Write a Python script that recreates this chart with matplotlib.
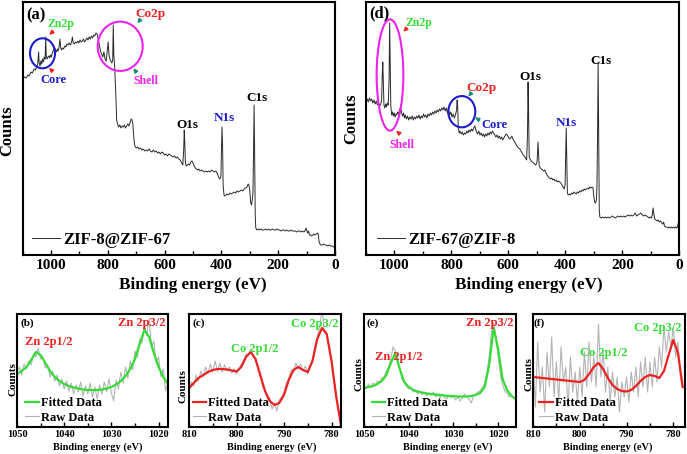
import numpy as np
import matplotlib
matplotlib.use("Agg")
import matplotlib.pyplot as plt
from matplotlib.patches import Ellipse
from matplotlib.ticker import MultipleLocator

plt.rcParams['font.family'] = 'Liberation Serif'
plt.rcParams['font.weight'] = 'bold'

# ---- survey (a) ZIF-8@ZIF-67 : binding energy (eV) / counts (a.u.)
a_ev = [1100, 1094, 1088, 1082, 1077, 1071, 1066, 1060, 1055, 1050,
        1047, 1044, 1042, 1039, 1036, 1033, 1030, 1027, 1024, 1021,
        1019, 1017, 1014, 1011, 1008, 1005, 1002, 999, 996, 993,
        990, 987, 984, 981, 978, 975, 972, 969, 966, 963,
        960, 956, 952, 948, 944, 940, 936, 932, 928, 925,
        922, 918, 914, 910, 906, 902, 898, 894, 890, 886,
        882, 878, 874, 870, 866, 862, 858, 854, 850, 846,
        842, 838, 834, 830, 826, 822, 818, 814, 810, 806,
        802, 799, 796, 793, 790, 786, 783, 781, 779, 776,
        772, 769, 766, 762, 758, 754, 750, 746, 742, 738,
        734, 730, 726, 722, 718, 715, 712, 708, 705, 700,
        695, 690, 685, 680, 675, 670, 665, 660, 655, 650,
        645, 640, 635, 630, 625, 620, 615, 610, 605, 600,
        595, 590, 585, 580, 575, 570, 565, 560, 555, 550,
        545, 540, 536, 533, 531, 529, 527, 524, 520, 516,
        512, 508, 504, 500, 496, 492, 488, 484, 480, 475,
        470, 465, 460, 455, 450, 445, 440, 435, 430, 425,
        420, 415, 410, 406, 402, 400, 398, 396, 394, 391,
        388, 384, 380, 375, 370, 365, 360, 355, 350, 345,
        340, 335, 330, 325, 320, 315, 310, 306, 303, 300,
        297, 294, 291, 289, 287, 285, 283, 281, 279, 275,
        270, 265, 260, 255, 250, 245, 240, 235, 230, 225,
        220, 215, 210, 205, 200, 195, 190, 185, 180, 175,
        170, 165, 160, 155, 150, 145, 140, 135, 130, 125,
        120, 115, 110, 106, 102, 99, 96, 93, 90, 86,
        82, 78, 74, 70, 66, 62, 59, 56, 53, 50,
        45, 40, 35, 30, 25, 20, 15, 10, 5, 0]
a_cts = [176, 178, 177, 180, 179, 183, 182, 186, 185, 189,
         191, 203, 192, 189, 194, 191, 196, 193, 198, 196,
         218, 199, 196, 198, 199, 197, 200, 198, 202, 204,
         206, 207, 205, 203, 206, 204, 208, 216, 207, 205,
         207, 206, 209, 208, 211, 210, 212, 210, 213, 218,
         212, 211, 213, 212, 214, 212, 215, 213, 214, 216,
         213, 215, 217, 215, 218, 216, 219, 217, 220, 219,
         222, 221, 216, 210, 204, 201, 198, 203, 196, 194,
         205, 213, 200, 196, 194, 192, 195, 230, 200, 188,
         160, 135, 131, 128, 130, 127, 129, 128, 130, 127,
         129, 131, 129, 132, 136, 135, 131, 115, 109, 107,
         108, 106, 107, 105, 106, 104, 105, 104, 106, 104,
         103, 105, 103, 104, 102, 103, 101, 103, 102, 100,
         101, 99, 101, 100, 99, 98, 99, 97, 98, 96,
         95, 92, 90, 105, 125, 112, 92, 89, 90, 91,
         90, 93, 94, 92, 89, 87, 86, 85, 86, 84,
         85, 84, 83, 84, 83, 84, 83, 85, 84, 83,
         84, 82, 78, 76, 78, 105, 128, 110, 70, 60,
         59, 60, 61, 60, 62, 61, 62, 63, 62, 64,
         63, 64, 65, 64, 66, 67, 68, 71, 70, 64,
         52, 50, 56, 62, 100, 150, 100, 40, 27, 25,
         26, 25, 26, 25, 25, 26, 25, 26, 25, 25,
         26, 25, 25, 26, 25, 25, 24, 25, 25, 24,
         25, 24, 24, 25, 24, 24, 24, 23, 24, 24,
         23, 24, 23, 24, 27, 24, 22, 24, 20, 20,
         19, 20, 21, 20, 21, 22, 21, 13, 11, 10,
         10, 11, 10, 10, 9, 10, 9, 9, 8, 8]

# ---- survey (d) ZIF-67@ZIF-8
d_ev = [1100, 1096, 1092, 1088, 1084, 1080, 1076, 1072, 1068, 1064,
        1060, 1056, 1052, 1048, 1045, 1043, 1041, 1039, 1037, 1034,
        1031, 1028, 1025, 1022, 1019, 1017, 1015, 1013, 1010, 1007,
        1004, 1001, 998, 995, 992, 989, 986, 983, 980, 977,
        974, 971, 968, 965, 962, 958, 954, 950, 946, 942,
        938, 934, 930, 926, 922, 918, 914, 910, 906, 902,
        898, 894, 890, 886, 882, 878, 874, 870, 866, 862,
        858, 854, 850, 846, 842, 838, 834, 830, 826, 822,
        818, 814, 810, 806, 802, 798, 794, 790, 786, 782,
        780, 778, 776, 773, 770, 766, 762, 758, 754, 750,
        746, 742, 738, 734, 730, 726, 722, 718, 715, 712,
        708, 704, 700, 696, 692, 688, 684, 680, 676, 672,
        668, 664, 660, 656, 652, 648, 644, 640, 636, 632,
        628, 624, 620, 616, 612, 608, 604, 600, 596, 592,
        588, 584, 580, 576, 572, 568, 564, 560, 556, 552,
        548, 544, 540, 536, 533, 531, 529, 527, 524, 520,
        516, 512, 508, 504, 500, 498, 496, 494, 492, 488,
        484, 480, 476, 472, 468, 464, 460, 456, 452, 448,
        444, 440, 436, 432, 428, 424, 420, 416, 412, 408,
        404, 401, 399, 397, 395, 393, 390, 386, 382, 378,
        374, 370, 366, 362, 358, 354, 350, 346, 342, 338,
        334, 330, 326, 322, 318, 314, 310, 306, 303, 300,
        297, 294, 291, 289, 287, 285, 283, 281, 279, 275,
        270, 265, 260, 255, 250, 245, 240, 235, 230, 225,
        220, 215, 210, 205, 200, 195, 190, 185, 180, 175,
        170, 165, 160, 155, 150, 145, 140, 135, 130, 125,
        120, 115, 110, 106, 102, 98, 95, 92, 89, 86,
        82, 78, 74, 70, 66, 62, 58, 55, 52, 48,
        44, 40, 36, 32, 28, 24, 20, 16, 12, 8,
        5, 3, 1]
d_cts = [155, 156, 153, 157, 154, 156, 152, 155, 151, 154,
         150, 152, 149, 151, 155, 180, 193, 170, 150, 147,
         151, 148, 152, 150, 175, 232, 190, 150, 140, 143,
         139, 142, 138, 141, 140, 143, 141, 144, 147, 146,
         141, 139, 142, 137, 140, 136, 139, 135, 138, 136,
         139, 135, 138, 136, 139, 137, 140, 136, 139, 137,
         141, 138, 140, 137, 141, 139, 142, 140, 143, 141,
         144, 142, 145, 143, 146, 144, 147, 145, 148, 144,
         147, 142, 145, 140, 143, 138, 141, 137, 140, 145,
         155, 148, 128, 122, 124, 121, 123, 120, 122, 121,
         124, 122, 125, 123, 126, 124, 127, 129, 126, 123,
         121, 124, 120, 122, 119, 121, 118, 121, 119, 122,
         120, 123, 121, 124, 122, 120, 118, 120, 117, 119,
         116, 118, 115, 117, 119, 121, 120, 118, 116, 117,
         119, 116, 114, 112, 110, 108, 107, 106, 104, 102,
         100, 99, 97, 95, 120, 173, 140, 98, 96, 94,
         93, 92, 91, 90, 92, 100, 113, 100, 89, 87,
         86, 85, 84, 85, 82, 80, 78, 77, 76, 77,
         75, 76, 74, 75, 73, 74, 73, 72, 70, 68,
         66, 70, 100, 127, 95, 62, 60, 61, 60, 62,
         61, 63, 62, 61, 63, 62, 64, 63, 65, 64,
         66, 65, 66, 67, 66, 68, 67, 68, 67, 58,
         53, 52, 55, 70, 120, 193, 120, 45, 38, 37,
         38, 37, 38, 37, 38, 37, 38, 39, 38, 37,
         38, 39, 38, 39, 38, 39, 38, 39, 40, 39,
         40, 39, 40, 42, 39, 40, 41, 42, 40, 39,
         40, 39, 38, 37, 38, 37, 40, 47, 40, 36,
         35, 34, 35, 33, 34, 32, 31, 33, 29, 28,
         28, 27, 28, 27, 28, 27, 28, 27, 28, 27,
         30, 33, 28]

# ---- high resolution spectra (energy grid = instrument step)
zn_fit_ev = np.arange(1050, 1017, -1)
zn_raw_ev = np.arange(1050, 1017.9, -0.5)
co_fit_ev = np.arange(810, 777, -1)
co_raw_ev = np.arange(810, 777.9, -0.5)
zn2_fit_ev = np.arange(1050, 1015, -1)
zn2_raw_ev = np.arange(1050, 1015.9, -0.5)

b_fit = [53, 56, 60, 67, 75, 72, 64, 56, 50, 46, 43, 41, 39.5, 38.5, 37.5, 37, 37,
         37, 37.5, 38.5, 40, 42.5, 46, 51, 58, 68, 83, 97, 90, 74, 60, 50, 43]
b_raw = [55, 60, 52, 63, 58, 66, 62, 73, 70, 79, 68, 70, 59, 62, 50, 56, 46, 52, 41, 48,
         38, 46, 36, 44, 33, 42, 35, 45, 31, 41, 33, 44, 30, 40, 28, 42, 33, 45, 35, 48,
         34, 26, 47, 38, 55, 44, 60, 49, 66, 57, 76, 70, 88, 84, 102, 92, 108, 80, 86, 64,
         70, 50, 58, 36, 45]
c_fit = [39, 44, 49, 52, 55, 57, 58, 58, 57.5, 56.5, 55.5, 60, 70, 75, 68, 52, 36,
         26, 22, 24, 32, 47, 57, 60, 57, 55, 66, 88, 99, 93, 66, 30, 2]
c_raw = [36, 45, 41, 52, 46, 56, 50, 60, 53, 63, 55, 66, 56, 64, 55, 62, 56, 60, 54, 58,
         53, 58, 63, 66, 73, 72, 78, 70, 68, 58, 54, 40, 38, 28, 29, 18, 24, 16, 27, 30,
         35, 44, 48, 57, 55, 64, 58, 63, 56, 61, 53, 62, 68, 80, 90, 100, 118, 96, 92, 80,
         68, 50, 32, 15, 2]
e_fit = [39, 40, 41, 43, 46, 52, 64, 74, 58, 45, 40, 37, 35.5, 34.5, 33.5, 33, 32.5, 32,
         31.5, 31, 31, 30.5, 30.5, 30.5, 31, 32, 34, 40, 62, 99, 78, 48, 37, 31, 28]
e_raw = [42, 38, 43, 39, 44, 42, 46, 45, 49, 50, 56, 60, 68, 80, 76, 66, 58, 48, 44, 41,
         38, 40, 35, 37, 33, 36, 32, 35, 31, 34, 32, 35, 30, 33, 29, 33, 30, 28, 32, 29,
         31, 27, 30, 26, 29, 33, 30, 28, 24, 31, 33, 35, 36, 40, 44, 55, 70, 95, 104, 90,
         70, 52, 42, 36, 34, 30, 32, 28, 30]
f_fit = [50, 49.5, 49, 48.5, 48, 47.5, 47, 46.5, 46, 45.5, 45, 47, 53, 60, 64, 58, 49,
         42, 38, 36, 35.5, 37, 41, 46, 50, 52, 51, 49, 56, 72, 87, 74, 40]
f_raw = [70, 20, 85, 35, 60, 15, 75, 40, 90, 30, 65, 25, 80, 45, 60, 20, 70, 35, 55, 25,
         60, 30, 75, 40, 85, 45, 70, 40, 103, 50, 75, 35, 60, 25, 55, 30, 50, 15, 45, 30,
         50, 25, 55, 35, 60, 30, 65, 40, 70, 35, 65, 40, 70, 45, 80, 60, 100, 75, 95, 80,
         100, 70, 85, 50, 40]

GREEN = '#35dc35'
RED = '#ec2222'
BLUE = '#1c1ccc'
MAGENTA = '#ee22ee'
TEAL = '#128a78'
GRAY = '#b4b4b4'

W, H = 687, 454
fig = plt.figure(figsize=(W / 100, H / 100), dpi=100)


def fp(x, y):
    return (x / W, 1 - y / H)


def box(l, t, r, b):
    return [l / W, 1 - b / H, (r - l) / W, (b - t) / H]


def style(ax, xlim, ylim, major, minor, fs, pad):
    ax.set_xlim(*xlim)
    ax.set_ylim(*ylim)
    ax.xaxis.set_major_locator(MultipleLocator(major))
    ax.xaxis.set_minor_locator(MultipleLocator(minor))
    ax.set_yticks([])
    ax.tick_params(axis='x', which='major', direction='in', length=3.5, width=1,
                   labelsize=fs, pad=pad)
    ax.tick_params(axis='x', which='minor', direction='in', length=3, width=1)
    for s in ax.spines.values():
        s.set_linewidth(1.5)


def txt(x, y, s, color='black', size=9, rot=0):
    fig.text(x / W, 1 - y / H, s, color=color, fontsize=size, fontweight='bold',
             ha='center', va='center', rotation=rot)


def arrow(ax, x0, y0, x1, y1, color):
    ax.annotate('', xy=fp(x1, y1), xytext=fp(x0, y0), xycoords='figure fraction',
                textcoords='figure fraction', annotation_clip=False,
                arrowprops=dict(arrowstyle='-|>', color=color, lw=1.0,
                                mutation_scale=6, shrinkA=0, shrinkB=0))


def ring(cx, cy, w, h, color):
    fig.add_artist(Ellipse(fp(cx, cy), w / W, h / H, transform=fig.transFigure,
                           fill=False, ec=color, lw=1.5))


# ---------------- top surveys
ax_a = fig.add_axes(box(22.7, 2, 335, 255))
ax_d = fig.add_axes(box(366, 2, 679.3, 255))

for ax, ev, cts, name, lx in [(ax_a, a_ev, a_cts, 'ZIF-8@ZIF-67', 0.030),
                              (ax_d, d_ev, d_cts, 'ZIF-67@ZIF-8', 0.035)]:
    ax.plot(ev, cts, color='#2a2a2a', lw=0.7, label=name)
    style(ax, (1100, 0), (0, 253), 200, 100, 11, 3)
    ax.legend(loc='center left', bbox_to_anchor=(lx, 15 / 253), frameon=False,
              fontsize=12, handlelength=1.7, handletextpad=0.2, borderpad=0,
              borderaxespad=0)

txt(193, 285, 'Binding energy (eV)', size=12.3)
txt(529, 285, 'Binding energy (eV)', size=12.3)
txt(7.5, 131, 'Counts', size=12, rot=90)
txt(351, 119, 'Counts', size=12, rot=90)

# panel (a) annotations
txt(35.5, 15, '(a)', size=12)
txt(61, 24, 'Zn2p', GREEN, 8.5)
arrow(ax_a, 53.3, 31, 49.3, 35, RED)
ring(42.5, 53.3, 25, 30, BLUE)
txt(53.3, 80, 'Core', BLUE, 9)
arrow(ax_a, 52.3, 71, 49, 67.7, RED)
ring(120.2, 46.3, 45, 49.3, MAGENTA)
txt(150.3, 14.2, 'Co2p', RED, 9.5)
arrow(ax_a, 140, 20, 137.3, 23.3, TEAL)
txt(145.8, 80.8, 'Shell', MAGENTA, 8.5)
arrow(ax_a, 136, 71.7, 133.3, 68.3, TEAL)
txt(187, 125, 'O1s', size=9.5)
txt(224.7, 118.3, 'N1s', BLUE, 9.5)
txt(256.7, 98.3, 'C1s', size=9.5)

# panel (d) annotations
txt(379.7, 13.3, '(d)', size=12)
ring(390, 75, 26.7, 111.3, MAGENTA)
txt(419, 23.3, 'Zn2p', GREEN, 8.5)
arrow(ax_d, 406.7, 28.3, 403.3, 31.7, RED)
txt(402, 144.7, 'Shell', MAGENTA, 8.5)
arrow(ax_d, 400, 134, 396, 130.7, RED)
ring(461.8, 111.7, 27, 31.3, BLUE)
txt(481.3, 87.5, 'Co2p', RED, 9.5)
arrow(ax_d, 471, 93.3, 468.3, 96.7, TEAL)
txt(494, 124.7, 'Core', BLUE, 9)
arrow(ax_d, 479.3, 120, 475, 117.3, TEAL)
txt(530.8, 76.7, 'O1s', size=9.5)
txt(566.3, 123.3, 'N1s', BLUE, 9.5)
txt(600.8, 61.3, 'C1s', size=9.5)

# ---------------- high resolution panels
panels = [
    (box(17, 314, 168, 427), zn_raw_ev, b_raw, zn_fit_ev, b_fit, GREEN, (1050, 1018), 0.053),
    (box(189, 314, 341, 427), co_raw_ev, c_raw, co_fit_ev, c_fit, RED, (810, 778), 0.024),
    (box(364, 314, 516, 427), zn2_raw_ev, e_raw, zn2_fit_ev, e_fit, GREEN, (1050, 1016), 0.05),
    (box(533, 314, 685, 427), co_raw_ev, f_raw, co_fit_ev, f_fit, RED, (810, 777.5), 0.04),
]
for rect, rx, ry, fx, fy, col, xl, lx in panels:
    ax = fig.add_axes(rect)
    raw, = ax.plot(rx, ry, color=GRAY, lw=0.8)
    fit, = ax.plot(fx, fy, color=col, lw=1.6)
    style(ax, xl, (0, 113), 10, 5, 7.5, 2.5)
    ax.legend([fit, raw], ['Fitted Data', 'Raw Data'], loc='lower left',
              bbox_to_anchor=(lx, 0.03), frameon=False, fontsize=9,
              handlelength=1.1, handletextpad=0.15, labelspacing=0.2,
              borderpad=0, borderaxespad=0)

for x in [98, 271.5, 447.5, 607.5]:
    txt(x, 447, 'Binding energy (eV)', size=7.5)
for x, y in [(12.7, 379), (182.5, 386), (359, 374), (529, 374)]:
    txt(x, y, 'Counts', size=8, rot=90)

txt(27, 323, '(b)', size=8)
txt(49.2, 341.7, 'Zn 2p1/2', RED, 9)
txt(141.7, 323.3, 'Zn 2p3/2', RED, 9)
txt(198.8, 323.5, '(c)', size=8)
txt(255, 349, 'Co 2p1/2', GREEN, 9)
txt(315, 324.3, 'Co 2p3/2', GREEN, 9)
txt(372.5, 322.8, '(e)', size=8)
txt(399, 356.7, 'Zn 2p1/2', RED, 9)
txt(490, 323.3, 'Zn 2p3/2', RED, 9)
txt(539, 322.8, '(f)', size=8)
txt(603.3, 353.3, 'Co 2p1/2', GREEN, 9)
txt(657.5, 328.3, 'Co 2p3/2', GREEN, 9)

fig.savefig('out.png', dpi=100)
